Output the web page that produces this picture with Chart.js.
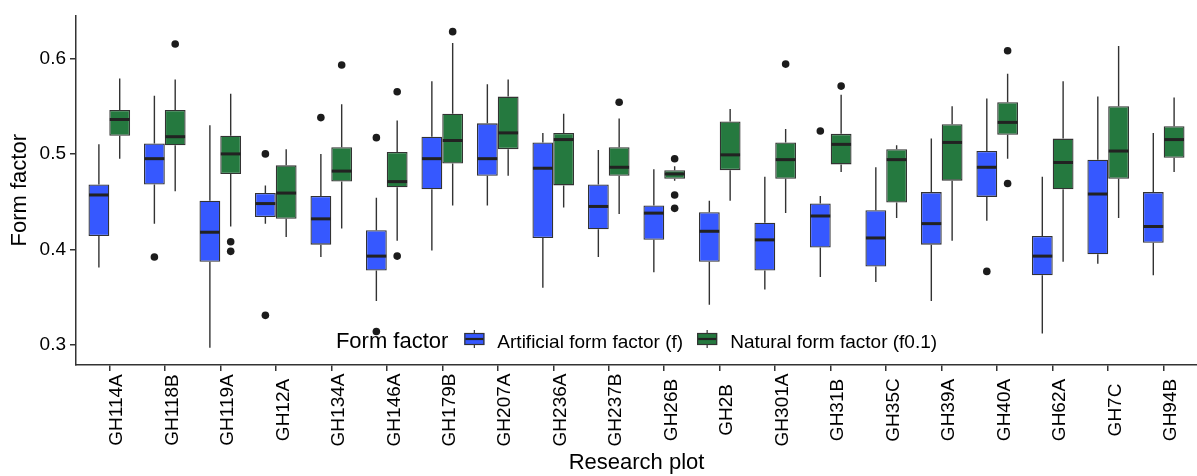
<!DOCTYPE html>
<html><head><meta charset="utf-8">
<script src="https://cdn.jsdelivr.net/npm/chart.js@4/dist/chart.umd.min.js"></script>
<style>html,body{margin:0;padding:0;background:#fff;}canvas{display:block;}</style>
</head><body>
<canvas id="c" width="1197" height="476"></canvas>
<script>
const categories = ['GH114A','GH118B','GH119A','GH12A','GH134A','GH146A','GH179B','GH207A','GH236A','GH237B','GH26B','GH2B','GH301A','GH31B','GH35C','GH39A','GH40A','GH62A','GH7C','GH94B'];
const seriesNames = ['Artificial form factor (f)','Natural form factor (f0.1)'];
const legendTitle = 'Form factor';
const xTitle = 'Research plot';
const yTitle = 'Form factor';
const yTicks = [0.3, 0.4, 0.5, 0.6];

// Artificial form factor (f)
const artLow  = [0.381,0.427,0.297,0.427,0.392,0.346,0.399,0.446,0.360,0.392,0.376,0.342,0.358,0.371,0.366,0.346,0.430,0.312,0.385,0.373];
const artQ1   = [0.414,0.468,0.387,0.434,0.405,0.378,0.463,0.477,0.412,0.421,0.410,0.387,0.378,0.402,0.382,0.405,0.455,0.373,0.395,0.407];
const artMed  = [0.457,0.495,0.418,0.448,0.432,0.393,0.495,0.495,0.485,0.445,0.438,0.419,0.410,0.435,0.412,0.427,0.486,0.393,0.458,0.424];
const artQ3   = [0.468,0.511,0.451,0.459,0.456,0.420,0.518,0.532,0.512,0.468,0.446,0.439,0.428,0.448,0.441,0.460,0.503,0.414,0.494,0.460];
const artHigh = [0.510,0.561,0.530,0.467,0.500,0.454,0.576,0.573,0.522,0.504,0.484,0.451,0.476,0.456,0.486,0.516,0.558,0.476,0.560,0.522];
const artOut  = [[],[0.392],[],[0.500,0.331],[0.538],[0.517,0.314],[],[],[],[],[],[],[],[0.524],[],[],[0.377],[],[],[]];

// Natural form factor (f0.1)
const natLow  = [0.495,0.461,0.424,0.413,0.422,0.409,0.446,0.477,0.444,0.437,0.472,0.451,0.438,0.481,0.433,0.409,0.495,0.387,0.433,0.481];
const natQ1   = [0.519,0.509,0.479,0.432,0.471,0.465,0.490,0.505,0.467,0.477,0.474,0.483,0.474,0.489,0.449,0.472,0.520,0.463,0.474,0.496];
const natMed  = [0.536,0.518,0.500,0.459,0.482,0.471,0.514,0.522,0.515,0.486,0.479,0.499,0.494,0.510,0.494,0.512,0.533,0.491,0.503,0.515];
const natQ3   = [0.546,0.546,0.519,0.488,0.507,0.502,0.542,0.560,0.522,0.507,0.483,0.534,0.512,0.521,0.505,0.531,0.554,0.516,0.550,0.529];
const natHigh = [0.579,0.578,0.563,0.505,0.552,0.535,0.616,0.578,0.542,0.537,0.487,0.547,0.526,0.562,0.509,0.550,0.584,0.576,0.613,0.559];
const natOut  = [[],[0.615],[0.408,0.398],[],[0.593],[0.565,0.393],[0.628],[],[],[0.554],[0.495,0.457,0.443],[],[0.594],[0.571],[],[],[0.608,0.469],[],[],[]];

const FONT = "'Liberation Sans', Arial, Helvetica, sans-serif";
Chart.defaults.font.family = FONT;
const fills = ['#3658FF', '#25793F'];
const lineCol = '#333333';

function makeDataset(label, fill, low, q1, med, q3, high, out) {
  return {
    label, backgroundColor: fill, borderColor: lineCol, borderWidth: 1.3, borderSkipped: false,
    data: categories.map((c, i) => ({ x: i, y: [q1[i], q3[i]] })),
    stats: { low, med, high, out }
  };
}

const boxPlugin = {
  id: 'boxParts',
  beforeDatasetsDraw(chart) {
    const ctx = chart.ctx, ys = chart.scales.y;
    ctx.save();
    ctx.strokeStyle = lineCol; ctx.lineWidth = 1.4;
    chart.data.datasets.forEach((ds, di) => {
      const meta = chart.getDatasetMeta(di);
      meta.data.forEach((bar, i) => {
        const x = bar.x;
        ctx.beginPath();
        ctx.moveTo(x, ys.getPixelForValue(ds.stats.high[i]));
        ctx.lineTo(x, ys.getPixelForValue(ds.data[i].y[1]));
        ctx.moveTo(x, ys.getPixelForValue(ds.data[i].y[0]));
        ctx.lineTo(x, ys.getPixelForValue(ds.stats.low[i]));
        ctx.stroke();
      });
    });
    ctx.restore();
  },
  afterDatasetsDraw(chart) {
    const ctx = chart.ctx, ys = chart.scales.y;
    ctx.save();
    chart.data.datasets.forEach((ds, di) => {
      const meta = chart.getDatasetMeta(di);
      meta.data.forEach((bar, i) => {
        const x = bar.x, w = bar.width;
        const ym = ys.getPixelForValue(ds.stats.med[i]);
        ctx.strokeStyle = '#222'; ctx.lineWidth = 3;
        ctx.beginPath(); ctx.moveTo(x - w / 2 + 0.5, ym); ctx.lineTo(x + w / 2 - 0.5, ym); ctx.stroke();
        ctx.fillStyle = '#1c1c1c';
        ds.stats.out[i].forEach(v => {
          ctx.beginPath(); ctx.arc(x, ys.getPixelForValue(v), 3.8, 0, Math.PI * 2); ctx.fill();
        });
      });
    });
    ctx.restore();
  },
  afterDraw(chart) {
    const ctx = chart.ctx, xs = chart.scales.x, area = chart.chartArea;
    ctx.save();
    // x tick labels (rotated, centred)
    ctx.fillStyle = '#000';
    ctx.font = '19px ' + FONT;
    ctx.textAlign = 'center'; ctx.textBaseline = 'top';
    categories.forEach((c, i) => {
      const px = xs.getPixelForValue(i);
      ctx.save();
      ctx.translate(px - 2, 410);
      ctx.rotate(-Math.PI / 2);
      ctx.fillText(c, 0, 0);
      ctx.restore();
    });
    // legend
    const titleFont = '22px ' + FONT, itemFont = '19px ' + FONT;
    ctx.font = titleFont; const tw = ctx.measureText(legendTitle).width;
    ctx.font = itemFont;
    const iw = seriesNames.map(s => ctx.measureText(s).width);
    const keyW = 20, gapT = 16, gapK = 13, gapI = 14;
    const total = tw + gapT + iw.reduce((a, b) => a + b, 0) + seriesNames.length * (keyW + gapK) + gapI;
    let lx = (area.left + area.right) / 2 - total / 2;
    const base = area.bottom - 17, cy = area.bottom - 26;
    ctx.textAlign = 'left'; ctx.textBaseline = 'alphabetic';
    ctx.font = titleFont; ctx.fillText(legendTitle, lx, base);
    lx += tw + gapT;
    seriesNames.forEach((s, k) => {
      ctx.strokeStyle = lineCol; ctx.lineWidth = 1.2;
      ctx.beginPath(); ctx.moveTo(lx + keyW / 2, cy - 9); ctx.lineTo(lx + keyW / 2, cy + 9); ctx.stroke();
      ctx.fillStyle = fills[k];
      ctx.fillRect(lx, cy - 6, keyW, 12);
      ctx.strokeRect(lx + 0.5, cy - 5.5, keyW - 1, 11);
      ctx.strokeStyle = '#222'; ctx.lineWidth = 2.2;
      ctx.beginPath(); ctx.moveTo(lx + 1, cy); ctx.lineTo(lx + keyW - 1, cy); ctx.stroke();
      lx += keyW + gapK;
      ctx.fillStyle = '#000'; ctx.font = itemFont;
      ctx.fillText(s, lx, base);
      lx += iw[k] + gapI;
    });
    ctx.restore();
  }
};

new Chart(document.getElementById('c'), {
  type: 'bar',
  data: {
    datasets: [
      makeDataset(seriesNames[0], fills[0], artLow, artQ1, artMed, artQ3, artHigh, artOut),
      makeDataset(seriesNames[1], fills[1], natLow, natQ1, natMed, natQ3, natHigh, natOut)
    ]
  },
  options: {
    responsive: false,
    devicePixelRatio: 1,
    animation: false,
    layout: { padding: { top: 13, right: 0, left: 0, bottom: 0 } },
    datasets: { bar: { categoryPercentage: 0.75, barPercentage: 1.0, grouped: true } },
    plugins: { legend: { display: false }, tooltip: { enabled: false } },
    scales: {
      x: {
        type: 'linear', min: -0.6, max: categories.length - 0.4, offset: false,
        afterBuildTicks: s => { s.ticks = categories.map((c, i) => ({ value: i })); },
        afterFit: s => { s.height = 111; },
        ticks: { display: false },
        grid: { offset: false, drawOnChartArea: false, drawTicks: true, tickLength: 6, color: lineCol, lineWidth: 1.5 },
        border: { display: true, color: lineCol, width: 1.5 },
        title: { display: true, text: xTitle, color: '#000', font: { size: 22 }, padding: { top: 0, bottom: 0 } }
      },
      y: {
        min: 0.279, max: 0.645,
        afterBuildTicks: s => { s.ticks = yTicks.map(v => ({ value: v })); },
        afterFit: s => { s.width = 76; },
        ticks: { color: '#000', font: { size: 19 }, padding: 4, callback: v => v.toFixed(1) },
        grid: { drawOnChartArea: false, drawTicks: true, tickLength: 6, color: lineCol, lineWidth: 1.5 },
        border: { display: true, color: lineCol, width: 1.5 },
        title: { display: true, text: yTitle, color: '#000', font: { size: 22 }, padding: { top: 7, bottom: 0 } }
      }
    }
  },
  plugins: [boxPlugin]
});
</script>
</body></html>
